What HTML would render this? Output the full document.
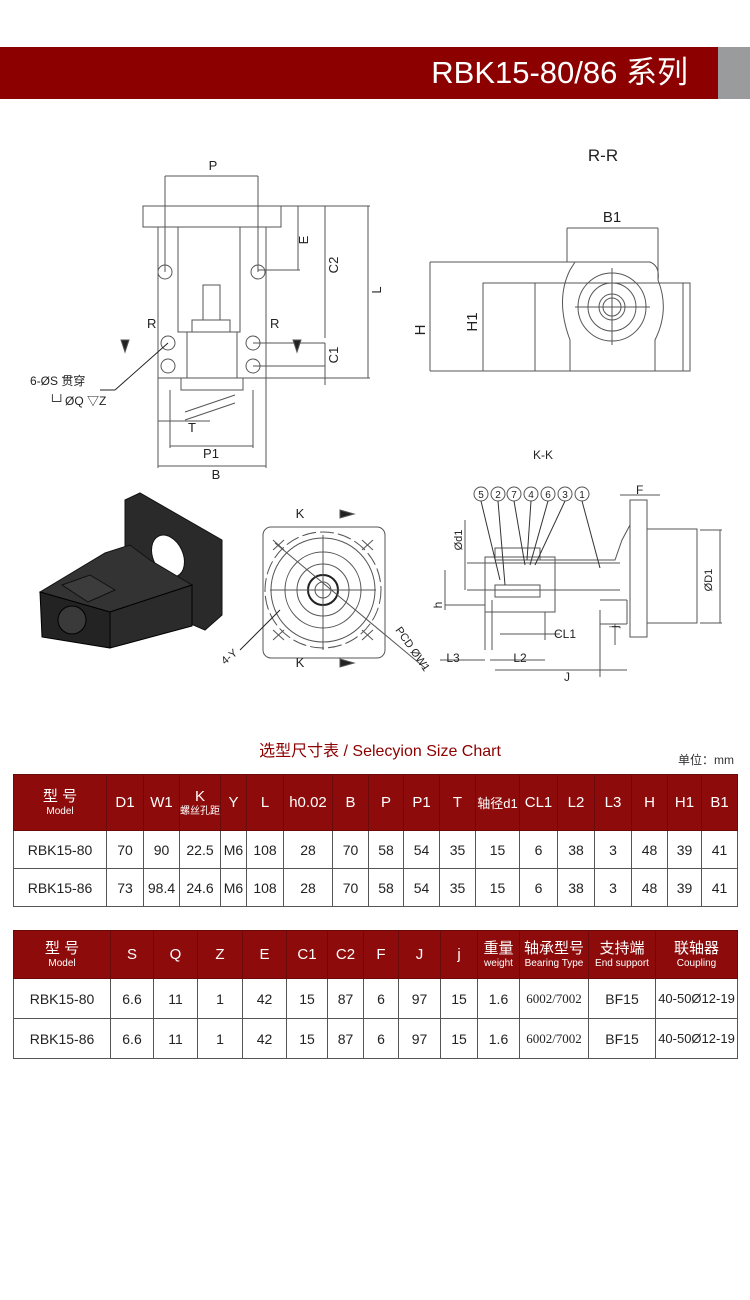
<!DOCTYPE html>
<html><head><meta charset="utf-8"><style>
body{margin:0;width:750px;height:1300px;background:#fff;position:relative;overflow:hidden;font-family:"Liberation Sans","Noto Sans CJK SC",sans-serif}
.hdr{position:absolute;left:0;top:47px;width:718px;height:52px;background:#8c0000}
.gry{position:absolute;left:718px;top:47px;width:32px;height:52px;background:#9a9b9d}
.ttl{position:absolute;right:62px;top:53px;color:#fff;font-size:31px;line-height:40px}
table{position:absolute;left:13px;border-collapse:collapse;table-layout:fixed;font-size:14px;color:#222}
td{border:1px solid #555;text-align:center;padding:0;white-space:nowrap;overflow:hidden}
tr.h td{background:#8e0b0b;color:#fff;border-color:#6a0a0a;font-size:15px}
.s{font-size:10px;display:block;line-height:12px}
.b{font-size:15px;display:block;line-height:18px}
svg text{font-family:"Liberation Sans","Noto Sans CJK SC",sans-serif;fill:#222}
</style></head><body>
<div class="hdr"></div><div class="gry"></div>
<div class="ttl">RBK15-80/86 系列</div>

<svg width="750" height="720" style="position:absolute;left:0;top:0" stroke="#555" fill="none" stroke-width="1">
<!-- front view -->
<rect x="143" y="206" width="138" height="21"/>
<rect x="158" y="227" width="108" height="151"/>
<rect x="178" y="227" width="62" height="105"/>
<rect x="187" y="332" width="50" height="46"/>
<rect x="181" y="378" width="62" height="12"/>
<rect x="203" y="285" width="17" height="35"/>
<rect x="192" y="320" width="38" height="12"/>
<g>
<circle cx="165" cy="272" r="7"/><circle cx="258" cy="272" r="7"/>
<circle cx="168" cy="343" r="7"/><circle cx="253" cy="343" r="7"/>
<circle cx="168" cy="366" r="7"/><circle cx="253" cy="366" r="7"/>
</g>
<line x1="165" y1="176" x2="165" y2="272"/><line x1="258" y1="176" x2="258" y2="272"/>
<line x1="165" y1="176" x2="258" y2="176"/>
<line x1="281" y1="206" x2="370" y2="206"/>
<line x1="368" y1="206" x2="368" y2="378"/><line x1="266" y1="378" x2="370" y2="378"/>
<line x1="325" y1="206" x2="325" y2="338"/><line x1="325" y1="343" x2="325" y2="385"/>
<line x1="298" y1="206" x2="298" y2="270"/><line x1="258" y1="270" x2="300" y2="270"/>
<line x1="253" y1="343" x2="325" y2="343"/><line x1="253" y1="366" x2="325" y2="366"/>
<line x1="158" y1="378" x2="158" y2="468"/><line x1="266" y1="378" x2="266" y2="468"/>
<line x1="158" y1="466" x2="266" y2="466"/>
<line x1="170" y1="390" x2="170" y2="448"/><line x1="253" y1="390" x2="253" y2="448"/>
<line x1="170" y1="446" x2="253" y2="446"/>
<line x1="158" y1="421" x2="210" y2="421"/>
<line x1="185" y1="412" x2="235" y2="395"/><line x1="185" y1="420" x2="235" y2="403"/>
<line x1="115" y1="390" x2="168" y2="343" stroke="#222"/><line x1="100" y1="390" x2="115" y2="390" stroke="#222"/>
<path d="M121 340 l4 12 l4 -12z" fill="#222"/><path d="M293 340 l4 12 l4 -12z" fill="#222"/>
<!-- R-R view -->
<rect x="483" y="283" width="207" height="88"/>
<line x1="535" y1="283" x2="535" y2="371"/><line x1="683" y1="283" x2="683" y2="371"/>
<path d="M570 371 V340 Q555 300 570 270 L575 262 H650 Q660 266 658 280 Q670 310 655 340 V371" />
<circle cx="612" cy="307" r="34"/><circle cx="612" cy="307" r="24"/><circle cx="612" cy="307" r="13"/><circle cx="612" cy="307" r="9"/>
<line x1="575" y1="307" x2="650" y2="307"/><line x1="612" y1="268" x2="612" y2="345"/>
<line x1="430" y1="262" x2="575" y2="262"/><line x1="430" y1="371" x2="483" y2="371"/>
<line x1="430" y1="262" x2="430" y2="371"/><line x1="483" y1="283" x2="483" y2="371"/>
<line x1="567" y1="228" x2="567" y2="262"/><line x1="658" y1="228" x2="658" y2="280"/>
<line x1="567" y1="228" x2="658" y2="228"/>
<!-- 3D block -->
<polygon points="125,500 140,493 222,540 222,615 205,630 170,615 125,580" fill="#2a2a2a" stroke="#111"/>
<ellipse cx="168" cy="556" rx="15" ry="22" transform="rotate(-25 168 556)" fill="#fff" stroke="#111"/>
<polygon points="40,592 105,553 130,545 150,560 192,585 110,612" fill="#333" stroke="#111"/>
<polygon points="40,592 110,612 110,648 42,637" fill="#232323" stroke="#000"/>
<polygon points="110,612 192,585 192,626 110,648" fill="#2b2b2b" stroke="#000"/>
<polygon points="62,585 90,575 115,590 88,602" fill="#3c3c3c" stroke="#111"/>
<circle cx="72" cy="620" r="14" fill="#3a3a3a" stroke="#000"/>
<!-- K view -->
<rect x="263" y="527" width="122" height="131" rx="8"/>
<circle cx="323" cy="590" r="58" stroke-dasharray="14 4"/>
<circle cx="323" cy="590" r="52"/><circle cx="323" cy="590" r="38"/><circle cx="323" cy="590" r="26"/>
<circle cx="323" cy="590" r="15" stroke="#222" stroke-width="2"/><circle cx="323" cy="590" r="8"/>
<line x1="270" y1="590" x2="376" y2="590"/><line x1="323" y1="535" x2="323" y2="650"/>
<line x1="275" y1="543" x2="425" y2="668"/>
<line x1="240" y1="650" x2="280" y2="610" stroke="#222"/>
<g stroke-width="1"><line x1="273" y1="540" x2="284" y2="550"/><line x1="284" y1="540" x2="273" y2="550"/>
<line x1="362" y1="540" x2="373" y2="550"/><line x1="373" y1="540" x2="362" y2="550"/>
<line x1="273" y1="630" x2="284" y2="640"/><line x1="284" y1="630" x2="273" y2="640"/>
<line x1="362" y1="630" x2="373" y2="640"/><line x1="373" y1="630" x2="362" y2="640"/></g>
<path d="M340 510 l14 4 l-14 4z" fill="#222"/><path d="M340 659 l14 4 l-14 4z" fill="#222"/>
<!-- K-K view -->
<rect x="630" y="500" width="17" height="137"/>
<rect x="647" y="529" width="50" height="94"/>
<path d="M630 525 L622 540 L615 560 H530"/>
<line x1="467" y1="563" x2="620" y2="563"/><line x1="467" y1="590" x2="620" y2="590"/>
<rect x="485" y="557" width="70" height="55"/>
<rect x="495" y="548" width="45" height="12"/><rect x="495" y="585" width="45" height="12"/>
<line x1="485" y1="600" x2="485" y2="650"/><line x1="492" y1="600" x2="492" y2="650"/>
<line x1="545" y1="612" x2="545" y2="640"/><line x1="600" y1="610" x2="600" y2="677"/>
<line x1="600" y1="600" x2="627" y2="600"/><line x1="600" y1="624" x2="627" y2="624"/><line x1="627" y1="600" x2="627" y2="624"/>
<line x1="445" y1="570" x2="445" y2="610"/><line x1="445" y1="605" x2="485" y2="605"/>
<line x1="465" y1="520" x2="465" y2="590"/>
<line x1="490" y1="660" x2="545" y2="660"/><line x1="440" y1="660" x2="485" y2="660"/>
<line x1="495" y1="670" x2="627" y2="670"/>
<line x1="500" y1="634" x2="560" y2="634"/>
<line x1="700" y1="530" x2="722" y2="530"/><line x1="700" y1="623" x2="722" y2="623"/><line x1="720" y1="530" x2="720" y2="623"/>
<line x1="615" y1="624" x2="615" y2="645"/>
<line x1="620" y1="495" x2="660" y2="495"/>
<g fill="#fff"><circle cx="481" cy="494" r="7"/><circle cx="498" cy="494" r="7"/><circle cx="514" cy="494" r="7"/><circle cx="531" cy="494" r="7"/><circle cx="548" cy="494" r="7"/><circle cx="565" cy="494" r="7"/><circle cx="582" cy="494" r="7"/></g>
<g stroke="#333"><line x1="481" y1="501" x2="500" y2="580"/><line x1="498" y1="501" x2="505" y2="585"/><line x1="514" y1="501" x2="525" y2="565"/><line x1="531" y1="501" x2="527" y2="560"/><line x1="548" y1="501" x2="530" y2="565"/><line x1="565" y1="501" x2="535" y2="565"/><line x1="582" y1="501" x2="600" y2="568"/></g>
</svg>
<svg width="750" height="720" style="position:absolute;left:0;top:0" font-size="13">
<text x="603" y="161" font-size="17" text-anchor="middle">R-R</text>
<text x="213" y="170" text-anchor="middle">P</text>
<text x="147" y="328">R</text><text x="270" y="328">R</text>
<text x="211" y="458" text-anchor="middle">P1</text>
<text x="216" y="479" text-anchor="middle">B</text>
<text x="188" y="432">T</text>
<text x="30" y="385" font-size="12">6-ØS 贯穿</text>
<text x="48" y="405" font-size="12">└┘ØQ ▽Z</text>
<text transform="translate(308,240) rotate(-90)" text-anchor="middle">E</text>
<text transform="translate(338,265) rotate(-90)" text-anchor="middle">C2</text>
<text transform="translate(381,290) rotate(-90)" text-anchor="middle">L</text>
<text transform="translate(338,355) rotate(-90)" text-anchor="middle">C1</text>
<text x="612" y="222" font-size="15" text-anchor="middle">B1</text>
<text transform="translate(425,330) rotate(-90)" font-size="15" text-anchor="middle">H</text>
<text transform="translate(477,322) rotate(-90)" font-size="15" text-anchor="middle">H1</text>
<text x="543" y="459" font-size="12" text-anchor="middle">K-K</text>
<text x="300" y="518" text-anchor="middle">K</text><text x="300" y="667" text-anchor="middle">K</text>
<text transform="translate(225,665) rotate(-40)" font-size="11">4-Y</text>
<text transform="translate(395,630) rotate(55)" font-size="11">PCD ØW1</text>
<g font-size="10" text-anchor="middle"><text x="481" y="498">5</text><text x="498" y="498">2</text><text x="514" y="498">7</text><text x="531" y="498">4</text><text x="548" y="498">6</text><text x="565" y="498">3</text><text x="582" y="498">1</text></g>
<text x="636" y="494" font-size="12">F</text>
<text transform="translate(712,580) rotate(-90)" font-size="11" text-anchor="middle">ØD1</text>
<text transform="translate(462,540) rotate(-90)" font-size="11" text-anchor="middle">Ød1</text>
<text transform="translate(442,605) rotate(-90)" font-size="12" text-anchor="middle">h</text>
<text x="565" y="638" font-size="12" text-anchor="middle">CL1</text>
<text transform="translate(618,628) rotate(-90)" font-size="12">j</text>
<text x="453" y="662" font-size="12" text-anchor="middle">L3</text>
<text x="520" y="662" font-size="12" text-anchor="middle">L2</text>
<text x="567" y="681" font-size="12" text-anchor="middle">J</text>
</svg>

<div style="position:absolute;left:0;width:760px;top:737px;text-align:center;font-size:16px;color:#8c0000">选型尺寸表 / Selecyion Size Chart</div>
<div style="position:absolute;right:16px;top:751px;font-size:12px;color:#333">单位：mm</div>

<table style="top:774px;width:724px">
<colgroup><col style="width:93px"><col style="width:37px"><col style="width:36px"><col style="width:41px"><col style="width:26px"><col style="width:37px"><col style="width:49px"><col style="width:36px"><col style="width:35px"><col style="width:36px"><col style="width:36px"><col style="width:44px"><col style="width:38px"><col style="width:37px"><col style="width:37px"><col style="width:36px"><col style="width:34px"><col style="width:36px"></colgroup>
<tr class="h" style="height:56px"><td><span class="b">型 号</span><span class="s">Model</span></td><td>D1</td><td>W1</td><td><span class="b">K</span><span class="s">螺丝孔距</span></td><td>Y</td><td>L</td><td>h0.02</td><td>B</td><td>P</td><td>P1</td><td>T</td><td style="font-size:13px">轴径d1</td><td>CL1</td><td>L2</td><td>L3</td><td>H</td><td>H1</td><td>B1</td></tr>
<tr style="height:38px"><td>RBK15-80</td><td>70</td><td>90</td><td>22.5</td><td>M6</td><td>108</td><td>28</td><td>70</td><td>58</td><td>54</td><td>35</td><td>15</td><td>6</td><td>38</td><td>3</td><td>48</td><td>39</td><td>41</td></tr>
<tr style="height:38px"><td>RBK15-86</td><td>73</td><td>98.4</td><td>24.6</td><td>M6</td><td>108</td><td>28</td><td>70</td><td>58</td><td>54</td><td>35</td><td>15</td><td>6</td><td>38</td><td>3</td><td>48</td><td>39</td><td>41</td></tr>
</table>

<table style="top:930px;width:724px">
<colgroup><col style="width:97px"><col style="width:43px"><col style="width:44px"><col style="width:45px"><col style="width:44px"><col style="width:41px"><col style="width:36px"><col style="width:35px"><col style="width:42px"><col style="width:37px"><col style="width:42px"><col style="width:69px"><col style="width:67px"><col style="width:82px"></colgroup>
<tr class="h" style="height:48px"><td><span class="b">型 号</span><span class="s">Model</span></td><td>S</td><td>Q</td><td>Z</td><td>E</td><td>C1</td><td>C2</td><td>F</td><td>J</td><td>j</td><td><span class="b">重量</span><span class="s">weight</span></td><td><span class="b">轴承型号</span><span class="s">Bearing Type</span></td><td><span class="b">支持端</span><span class="s">End support</span></td><td><span class="b">联轴器</span><span class="s">Coupling</span></td></tr>
<tr style="height:40px"><td>RBK15-80</td><td>6.6</td><td>11</td><td>1</td><td>42</td><td>15</td><td>87</td><td>6</td><td>97</td><td>15</td><td>1.6</td><td style="font-family:'Liberation Serif',serif;font-size:13px">6002/7002</td><td>BF15</td><td style="font-size:13px">40-50Ø12-19</td></tr>
<tr style="height:40px"><td>RBK15-86</td><td>6.6</td><td>11</td><td>1</td><td>42</td><td>15</td><td>87</td><td>6</td><td>97</td><td>15</td><td>1.6</td><td style="font-family:'Liberation Serif',serif;font-size:13px">6002/7002</td><td>BF15</td><td style="font-size:13px">40-50Ø12-19</td></tr>
</table>
</body></html>
